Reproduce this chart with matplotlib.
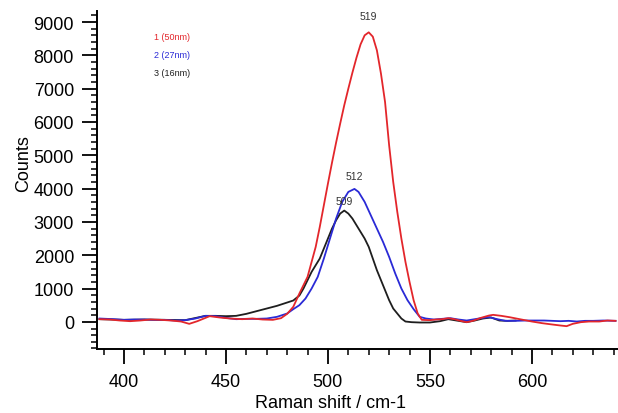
import matplotlib.pyplot as plt
from matplotlib.ticker import MultipleLocator

plt.rcParams['font.family'] = ['Liberation Sans', 'DejaVu Sans']

# Sample 1 (50nm) - red
x_red = [388, 393, 398, 403, 408, 413, 418, 423, 428, 432, 436, 442, 447, 452, 458, 463,
         468, 473, 477, 480, 483, 486, 490, 494, 496, 498, 500, 502, 504, 506, 508, 510,
         512, 514, 516, 518, 520, 522, 524, 526, 528, 530, 532, 534, 536, 538, 540, 542,
         544, 546, 550, 553, 556, 559, 562, 565, 568, 571, 575, 579, 581, 585, 589, 594,
         600, 605, 610, 614, 617, 620, 624, 628, 633, 637, 641]
y_red = [80, 70, 40, 20, 40, 70, 60, 40, 10, -60, 20, 170, 130, 100, 80, 100,
         70, 60, 110, 240, 450, 850, 1350, 2250, 2850, 3500, 4150, 4780, 5380, 5950, 6500, 7000,
         7480, 7930, 8330, 8600, 8690, 8560, 8150, 7450, 6600, 5300, 4200, 3300, 2500, 1800, 1200, 650,
         250, 60, 50, 70, 80, 110, 80, 30, -10, 30, 120, 190, 210, 180, 140, 80,
         10, -40, -80, -110, -130, -60, -10, 10, 10, 40, 30]

# Sample 2 (27nm) - blue
x_blue = [388, 395, 400, 405, 410, 415, 420, 425, 430, 435, 440, 445, 450, 455, 460, 465,
          470, 475, 480, 483, 486, 489, 492, 495, 498, 501, 504, 507, 510, 513, 515, 518,
          521, 524, 527, 530, 533, 536, 539, 542, 545, 548, 552, 556, 560, 564, 568, 572,
          576, 579, 583, 587, 592, 597, 601, 606, 610, 614, 618, 622, 626, 630, 635, 641]
y_blue = [100, 80, 60, 70, 70, 60, 60, 40, 50, 100, 180, 170, 120, 80, 90, 90,
          100, 150, 250, 380, 500, 700, 1000, 1350, 1900, 2500, 3100, 3600, 3900, 3990, 3900, 3600,
          3200, 2800, 2400, 1950, 1450, 1000, 650, 380, 150, 100, 70, 90, 110, 70, 40, 80,
          120, 140, 80, 30, 30, 40, 40, 40, 30, 20, 30, 10, 30, 30, 40, 30]

# Sample 3 (16nm) - black
x_black = [388, 400, 410, 420, 430, 440, 445, 450, 455, 460, 465, 470, 475, 480, 483, 486,
           488, 490, 492, 494, 496, 498, 500, 502, 504, 506, 508, 510, 512, 514, 516, 518,
           520, 522, 524, 526, 528, 530, 532, 534, 536, 538, 541, 545, 550, 555, 559, 563,
           568, 572, 576, 580, 584, 588, 592]
y_black = [80, 60, 70, 60, 50, 180, 180, 170, 180, 240, 320, 400, 480, 580, 640, 790,
           1000, 1250, 1500, 1700, 1900, 2200, 2500, 2800, 3050, 3250, 3340, 3250, 3100, 2900, 2700, 2500,
           2250, 1900, 1550, 1250, 950, 650, 400, 250, 100, 10, -10, -20, -20, 20, 80, 40,
           -10, 40, 100, 130, 40, 30, 40]

labels = ['1 (50nm)', '2 (27nm)', '3 (16nm)']
colors = ['#e3262b', '#2a2ad6', '#1e1e1e']
peaks = [(519.8, 8690, '519', 8), (513, 3990, '512', 6), (508, 3340, '509', 3.5)]

fig = plt.figure(figsize=(6.18, 4.14), dpi=100)
ax = fig.add_axes([0.157, 0.155, 0.843, 0.816])

ax.plot(x_black, y_black, color=colors[2], lw=1.3)
ax.plot(x_blue, y_blue, color=colors[1], lw=1.3)
ax.plot(x_red, y_red, color=colors[0], lw=1.3)

ax.set_xlim(386.8, 642.2)
ax.set_ylim(-810, 9330)

# peak labels
for px, py, txt, off in peaks:
    ax.annotate(txt, xy=(px, py), xytext=(0, off), textcoords='offset points',
                ha='center', va='bottom', fontsize=7.5, color='#333333')

# text legend
for i, (lab, c) in enumerate(zip(labels, colors)):
    fig.text(172 / 618, 1 - (37 + i * 18.5) / 414, lab, color=c, fontsize=6.5,
             ha='center', va='center')

ax.spines['top'].set_visible(False)
ax.spines['right'].set_visible(False)
ax.spines['left'].set_linewidth(1.4)
ax.spines['bottom'].set_linewidth(1.4)

ax.xaxis.set_major_locator(MultipleLocator(50))
ax.xaxis.set_minor_locator(MultipleLocator(10))
ax.yaxis.set_major_locator(MultipleLocator(1000))
ax.yaxis.set_minor_locator(MultipleLocator(200))
ax.tick_params(which='major', direction='out', length=10.5, width=1.3, labelsize=13)
ax.tick_params(which='minor', direction='out', length=4, width=1.1)
ax.tick_params(axis='x', which='major', pad=7)
ax.tick_params(axis='y', which='major', pad=6)

ax.set_xlabel('Raman shift / cm-1', fontsize=13)
ax.set_ylabel('Counts', fontsize=13)
ax.xaxis.set_label_coords(0.449, -0.135)
ax.yaxis.set_label_coords(-0.125, 0.55)

fig.savefig('out.png', dpi=100)
